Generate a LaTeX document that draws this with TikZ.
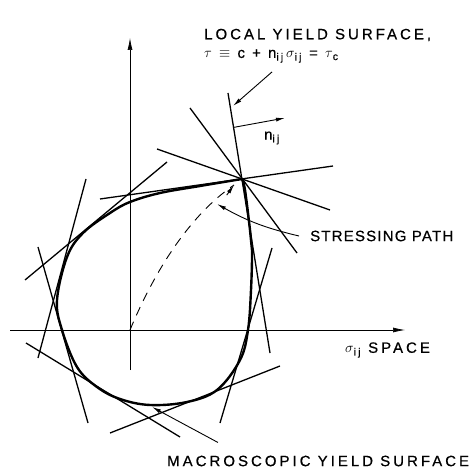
\documentclass[tikz,border=0pt]{standalone}
\usepackage{fontspec}
\setsansfont{Liberation Sans}[LetterSpace=20, FakeBold=0.6]
\usetikzlibrary{arrows.meta,calc}

\begin{document}
\begin{tikzpicture}[
  x=1pt, y=-1pt,
  font=\sffamily\fontsize{15}{20}\selectfont,
  >=Latex,
  axis/.style={line width=0.7pt, -{Latex[length=12pt,width=5pt]}},
  tang/.style={line width=1.3pt},
  surf/.style={line width=2.4pt, line join=round},
  arr/.style={line width=0.9pt, -{Latex[length=9pt,width=4pt]}},
  stresspath/.style={line width=0.9pt, dash pattern=on 9pt off 7pt},
  lbl/.style={inner sep=1pt}
]
\useasboundingbox (0,0) rectangle (471,470);

% Stress space axes
\coordinate (O) at (130,330);
\coordinate (xL) at (10,330);
\coordinate (xR) at (405,330);
\coordinate (yB) at (130,370);
\coordinate (yT) at (130,38);
\draw[axis] (xL) -- (xR);
\draw[axis] (yB) -- (yT);

% Vertex of the macroscopic surface
\coordinate (V) at (242,179);

% Local yield surfaces through the vertex
\draw[tang] ($(V)+(-14,-86)$) coordinate (aTop) -- ($(V)+(28,174)$);
\draw[tang] ($(V)+(-142,20)$) -- ($(V)+(91,-13)$);
\draw[tang] ($(V)+(-85,-30)$) -- ($(V)+(88,31)$);
\draw[tang] ($(V)+(-52,-71)$) -- ($(V)+(55,74)$);

% Local yield surfaces tangent elsewhere
\draw[tang] (25,280) -- (167,162);
\draw[tang] (86,179) -- (38,358);
\draw[tang] (38,247) -- (88,423);
\draw[tang] (26,343) -- (180,437);
\draw[tang] (110,433) -- (280,366);
\draw[tang] (272,248) -- (220,423);

% Macroscopic yield surface (envelope)
\draw[surf] plot[smooth, tension=0.6] coordinates {
  (V) (200,186) (160,193) (130,202) (110,213) (83,233) (67,257)
  (57,300) (62,330) (77,367) (97,387) (120,399) (150,405) (187,402)
  (217,390) (240,360) (248,330) (251,290) (252,250) (250,230) (245,190) (V)};

% Stressing path
\coordinate (spEnd) at (234,185);
\draw[stresspath] (O) .. controls (155,270) and (190,215) .. (spEnd);
\draw[arr] ($(O)!0.93!(spEnd)$) -- (spEnd);

% Normal of the local surface
\coordinate (nFoot) at ($(V)!0.6!(aTop)$);
\coordinate (nHead) at (285,118);
\draw[arr] (nFoot) -- (nHead);
\node[lbl] (nlab) at (272,138) {n\textsubscript{ij}};

% Labels
\node[lbl, anchor=west] (lys) at (203,35) {LOCAL YIELD SURFACE,};
\node[lbl, anchor=west] (lyseq) at (203,56)
  {$\tau$ $\equiv$ c + n\textsubscript{ij}\,$\sigma$\textsubscript{ij} = $\tau$\textsubscript{c}};
\node[lbl, anchor=west] (sp) at (309,236) {\addfontfeature{LetterSpace=8}STRESSING PATH};
\node[lbl, anchor=west] (sig) at (344,350) {$\sigma$\textsubscript{ij} SPACE};
\node[lbl, anchor=west] (ms) at (166,461) {MACROSCOPIC YIELD SURFACE};

\coordinate (lysTip) at (233,106);
\coordinate (spTip) at (217,204);
\coordinate (msTip) at (152,407);
\draw[arr] ([xshift=69pt,yshift=-8pt]lyseq.south west) -- (lysTip);
\draw[arr] ([xshift=-10pt]sp.west) to[bend left=8] (spTip);
\draw[arr] ([xshift=52pt,yshift=12pt]ms.north west) -- (msTip);

\end{tikzpicture}
\end{document}
